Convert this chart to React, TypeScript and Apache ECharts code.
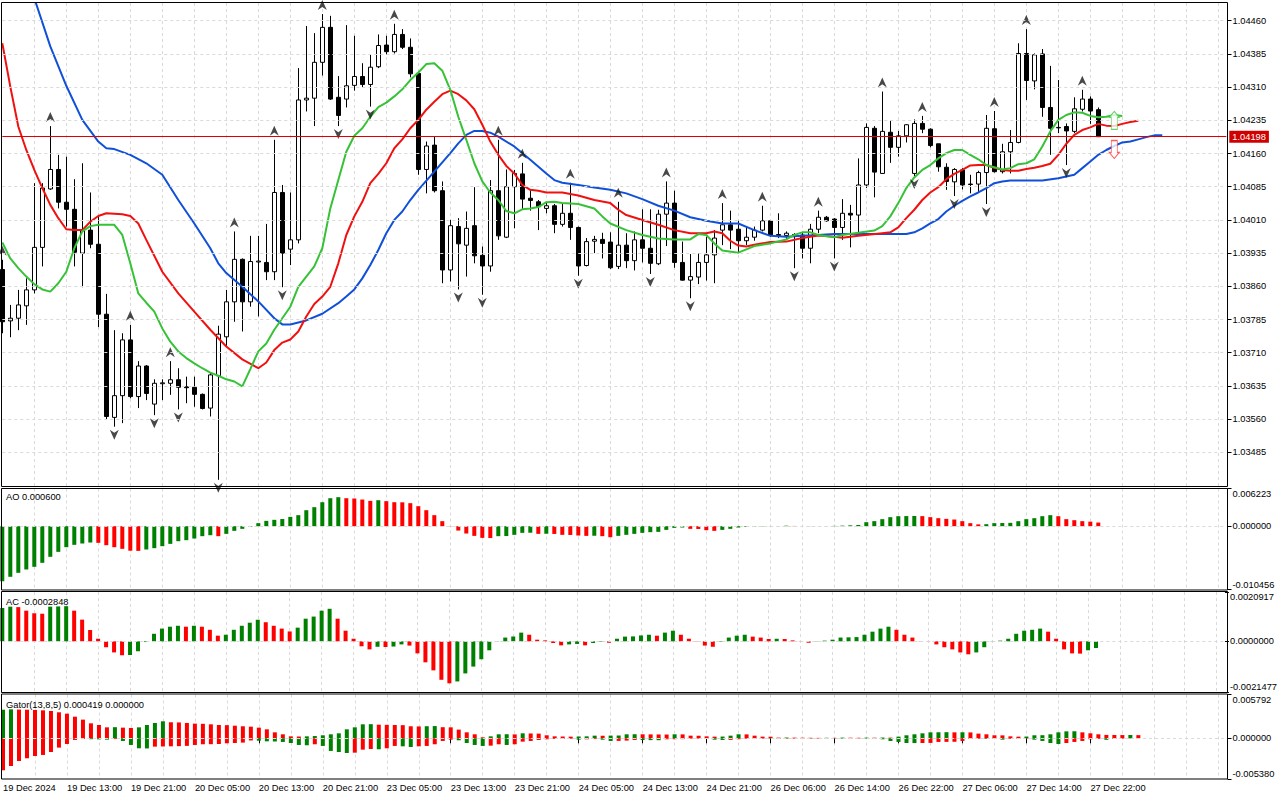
import React, { useEffect, useRef } from "react";
import * as echarts from "echarts";

// ---------- time axis ----------
const SESSIONS: [string, number, number][] = [
  ["19 Dec", 5, 23],
  ["20 Dec", 0, 23],
  ["23 Dec", 0, 23],
  ["24 Dec", 0, 22],
  ["26 Dec", 0, 23],
  ["27 Dec", 0, 23],
];
const FIRST_LABEL = "19 Dec 2024";
const FUTURE_SLOTS = 16;

// ---------- EURUSD H1 candles ----------
const OPEN = [
  1.03898, 1.03782, 1.03788, 1.03816, 1.03852, 1.03948, 1.0408, 1.04124, 1.0405, 1.04034,
  1.03935, 1.03987, 1.03955, 1.03797, 1.03564, 1.03613, 1.03739, 1.03611, 1.0368, 1.03594,
  1.0364, 1.03641, 1.03649, 1.03633, 1.03632, 1.03616, 1.03585, 1.03658, 1.03746, 1.03825,
  1.03921, 1.03825, 1.03915, 1.03914, 1.03893, 1.04072, 1.03944, 1.03965, 1.04281, 1.04285,
  1.04366, 1.04445, 1.04287, 1.04283, 1.04314, 1.04334, 1.04316, 1.04356, 1.04405, 1.0439,
  1.04429, 1.044, 1.04341, 1.04124, 1.04179, 1.04076, 1.03897, 1.03995, 1.03953, 1.03997,
  1.0393, 1.03906, 1.04076, 1.03971, 1.04085, 1.04114, 1.04059, 1.04051, 1.04036, 1.04042,
  1.04, 1.04025, 1.03993, 1.03907, 1.03962, 1.03966, 1.0396, 1.03905, 1.03953, 1.03918,
  1.03965, 1.03946, 1.03911, 1.04023, 1.04048, 1.03914, 1.03874, 1.03881, 1.03914, 1.03931,
  1.03987, 1.03999, 1.03989, 1.03963, 1.03971, 1.03987, 1.04008, 1.03977, 1.03975, 1.03977,
  1.03976, 1.03946, 1.03989, 1.04016, 1.04012, 1.03993, 1.04025, 1.04021, 1.04089, 1.04217,
  1.04115, 1.04208, 1.04174, 1.042, 1.04115, 1.04228, 1.04215, 1.04182, 1.04129, 1.04096,
  1.04123, 1.04091, 1.04091, 1.04117, 1.04216, 1.04119, 1.04164, 1.04185, 1.04386, 1.04324,
  1.04385, 1.04264, 1.04219, 1.04221, 1.0421, 1.0426, 1.04283, 1.04259,
];
const HIGH = [
  1.0392, 1.03818, 1.03852, 1.03878, 1.04093, 1.04093, 1.04222, 1.04157, 1.04153, 1.04102,
  1.04138, 1.04072, 1.04018, 1.03843, 1.03761, 1.03754, 1.03773, 1.03691, 1.03682, 1.0365,
  1.0365, 1.03691, 1.03675, 1.03656, 1.03656, 1.03618, 1.03664, 1.03771, 1.03852, 1.03984,
  1.03923, 1.03974, 1.03974, 1.04001, 1.04191, 1.04089, 1.04072, 1.04353, 1.04448, 1.04432,
  1.04475, 1.04471, 1.04335, 1.0445, 1.04426, 1.04364, 1.04383, 1.04429, 1.04426, 1.04453,
  1.04441, 1.0442, 1.04345, 1.04187, 1.04198, 1.04097, 1.0401, 1.04014, 1.04029, 1.04084,
  1.0395, 1.041, 1.04191, 1.04124, 1.04123, 1.04139, 1.04078, 1.04055, 1.04051, 1.04046,
  1.04046, 1.04094, 1.03995, 1.03969, 1.03974, 1.03981, 1.03982, 1.04051, 1.0398, 1.03984,
  1.04034, 1.04034, 1.04033, 1.04097, 1.04076, 1.03961, 1.03933, 1.03935, 1.03972, 1.03987,
  1.04048, 1.04031, 1.04008, 1.03995, 1.03995, 1.04042, 1.04008, 1.04025, 1.03984, 1.0398,
  1.03981, 1.04001, 1.04031, 1.04019, 1.04014, 1.04057, 1.04044, 1.04149, 1.04228, 1.04222,
  1.043, 1.04234, 1.04211, 1.04226, 1.04237, 1.04245, 1.04217, 1.04182, 1.04138, 1.04127,
  1.04127, 1.04112, 1.04121, 1.04247, 1.04256, 1.04182, 1.04213, 1.04409, 1.04441, 1.04386,
  1.04396, 1.04358, 1.04326, 1.04228, 1.04287, 1.04304, 1.04289, 1.04264,
];
const LOW = [
  1.03754, 1.03745, 1.03761, 1.03773, 1.03844, 1.03905, 1.04078, 1.04036, 1.03995, 1.03905,
  1.03858, 1.03946, 1.03768, 1.0356, 1.03543, 1.03551, 1.03607, 1.03585, 1.03603, 1.03569,
  1.03603, 1.03615, 1.03582, 1.03596, 1.03588, 1.03582, 1.03566, 1.03423, 1.03724, 1.0378,
  1.03758, 1.03814, 1.03792, 1.03874, 1.03874, 1.03858, 1.03908, 1.03957, 1.04255, 1.04222,
  1.04336, 1.04281, 1.04222, 1.04264, 1.04302, 1.0431, 1.04266, 1.04353, 1.04383, 1.04386,
  1.04396, 1.04332, 1.04112, 1.0407, 1.04072, 1.03867, 1.03871, 1.03853, 1.03882, 1.03912,
  1.03841, 1.03893, 1.03965, 1.03969, 1.03991, 1.04034, 1.04031, 1.03987, 1.04025, 1.0398,
  1.03995, 1.03965, 1.03884, 1.03905, 1.03935, 1.03923, 1.03899, 1.03899, 1.03901, 1.03896,
  1.03914, 1.03888, 1.03908, 1.03951, 1.03902, 1.03873, 1.03833, 1.03865, 1.03873, 1.03867,
  1.03953, 1.03944, 1.03935, 1.03953, 1.03963, 1.03984, 1.03972, 1.03969, 1.03965, 1.03901,
  1.03923, 1.03912, 1.0398, 1.04006, 1.03923, 1.03965, 1.03948, 1.0398, 1.04082, 1.04061,
  1.04114, 1.04139, 1.04153, 1.04185, 1.04109, 1.04206, 1.04174, 1.04119, 1.04078, 1.04064,
  1.04079, 1.0407, 1.04072, 1.04046, 1.04117, 1.04115, 1.04115, 1.04183, 1.04281, 1.04305,
  1.04243, 1.04157, 1.04206, 1.04134, 1.04206, 1.04255, 1.04227, 1.04198,
];
const CLOSE = [
  1.0378, 1.03788, 1.03818, 1.03852, 1.03948, 1.04082, 1.04124, 1.0405, 1.04034, 1.03937,
  1.03987, 1.03955, 1.03797, 1.03566, 1.03613, 1.03739, 1.03611, 1.0368, 1.03618, 1.03641,
  1.03642, 1.03649, 1.03632, 1.03631, 1.03616, 1.03584, 1.0366, 1.03752, 1.03825, 1.03921,
  1.03825, 1.03916, 1.03917, 1.03893, 1.04072, 1.03935, 1.03965, 1.04281, 1.04285, 1.04366,
  1.04445, 1.04283, 1.04246, 1.04313, 1.04334, 1.04316, 1.04355, 1.04404, 1.0439, 1.04429,
  1.044, 1.0434, 1.04124, 1.04177, 1.04076, 1.03897, 1.03997, 1.03956, 1.03991, 1.03929,
  1.03906, 1.04076, 1.03974, 1.04085, 1.04115, 1.04057, 1.04054, 1.0404, 1.04042, 1.04,
  1.04025, 1.03993, 1.03906, 1.03961, 1.03966, 1.03957, 1.03902, 1.03953, 1.03918, 1.03965,
  1.03946, 1.03912, 1.04023, 1.04048, 1.03914, 1.03874, 1.03882, 1.03914, 1.03931, 1.03969,
  1.03999, 1.03987, 1.03963, 1.03971, 1.03987, 1.04008, 1.03976, 1.03975, 1.0398, 1.03975,
  1.03946, 1.03989, 1.04016, 1.04008, 1.03993, 1.04025, 1.04021, 1.04089, 1.04219, 1.04118,
  1.0421, 1.04174, 1.042, 1.04225, 1.04228, 1.04215, 1.04178, 1.0413, 1.04097, 1.04124,
  1.04089, 1.0409, 1.04117, 1.04217, 1.04119, 1.04164, 1.04185, 1.04386, 1.04325, 1.04383,
  1.04264, 1.04217, 1.04218, 1.04211, 1.04261, 1.04283, 1.04256, 1.04198,
];

// ---------- Alligator (bar index, price), already shifted forward ----------
const JAW: [number, number][] = [
  [0, 1.0468], [2, 1.04582], [4, 1.04511], [6, 1.04402], [8, 1.04313], [10, 1.04236], [12, 1.04187],
  [13, 1.04172], [14, 1.0417], [16, 1.04157], [18, 1.04138], [20, 1.04112], [22, 1.04055], [24, 1.04002],
  [26, 1.03946], [27, 1.03912], [28, 1.0389], [30, 1.03859], [32, 1.03826], [34, 1.03788], [35, 1.03774],
  [36, 1.03774], [38, 1.03783], [40, 1.03798], [42, 1.03822], [43, 1.03837], [44, 1.03853], [45, 1.03878],
  [46, 1.03908], [47, 1.03942], [48, 1.0398], [49, 1.0401], [50, 1.04029], [51, 1.04055], [52, 1.04078],
  [54, 1.04119], [56, 1.04161], [57, 1.04183], [58, 1.04202], [59, 1.04211], [60, 1.04211], [61, 1.04207],
  [62, 1.04198], [64, 1.04176], [66, 1.04146], [68, 1.04115], [69, 1.041], [70, 1.04094], [72, 1.04089],
  [74, 1.04083], [76, 1.04078], [78, 1.0407], [80, 1.04057], [82, 1.04042], [84, 1.04031], [86, 1.04016],
  [88, 1.04008], [90, 1.04002], [92, 1.04002], [94, 1.03987], [96, 1.03974], [98, 1.03972], [100, 1.03974],
  [102, 1.03976], [104, 1.03978], [108, 1.03978], [113, 1.03978], [114, 1.03982], [115, 1.03991],
  [116, 1.04002], [117, 1.04012], [118, 1.04029], [119, 1.04042], [120, 1.04053], [121, 1.04063],
  [122, 1.04072], [123, 1.04082], [124, 1.04093], [125, 1.04097], [126, 1.04099], [130, 1.04099],
  [132, 1.04104], [134, 1.04112], [135, 1.04127], [136, 1.04142], [137, 1.04157], [138, 1.04168],
  [139, 1.04177], [140, 1.04185], [141, 1.04187], [142, 1.04192], [143, 1.04197], [144, 1.04201], [145, 1.04201],
];
const TEETH: [number, number][] = [
  [0, 1.04409], [1, 1.04311], [2, 1.04221], [3, 1.04168], [4, 1.04123], [5, 1.04082], [6, 1.04044],
  [7, 1.04014], [8, 1.03989], [9, 1.03987], [10, 1.03987], [11, 1.04006], [12, 1.04019], [13, 1.04025],
  [14, 1.04024], [15, 1.04023], [16, 1.04019], [17, 1.04002], [18, 1.03965], [20, 1.03893], [22, 1.03844],
  [24, 1.03803], [26, 1.03762], [28, 1.03724], [30, 1.03695], [32, 1.03675], [33, 1.03688], [34, 1.03716],
  [35, 1.03733], [36, 1.0374], [37, 1.03758], [38, 1.03792], [39, 1.0382], [40, 1.03837], [41, 1.03859],
  [42, 1.03912], [43, 1.03976], [44, 1.04018], [45, 1.04051], [46, 1.04093], [47, 1.04114], [48, 1.04138],
  [49, 1.04172], [50, 1.04192], [51, 1.04217], [52, 1.04236], [53, 1.04259], [54, 1.04277], [55, 1.04294],
  [56, 1.04302], [57, 1.04294], [58, 1.0428], [59, 1.0426], [60, 1.04225], [61, 1.04187], [62, 1.04157],
  [63, 1.04132], [64, 1.04115], [65, 1.04089], [66, 1.04078], [67, 1.04076], [68, 1.04072], [70, 1.04072],
  [72, 1.04065], [74, 1.04055], [76, 1.04048], [77, 1.04033], [78, 1.04021], [80, 1.0401], [82, 1.03999],
  [84, 1.03987], [86, 1.0398], [88, 1.0398], [89, 1.03984], [90, 1.0398], [91, 1.03963], [92, 1.03952],
  [93, 1.0395], [94, 1.03954], [96, 1.0396], [98, 1.03961], [100, 1.03969], [102, 1.03975], [104, 1.03972],
  [105, 1.0397], [107, 1.03974], [110, 1.0398], [111, 1.03982], [112, 1.03993], [113, 1.04014],
  [114, 1.04033], [115, 1.04055], [116, 1.04072], [117, 1.04084], [118, 1.04102], [119, 1.04114],
  [120, 1.04123], [121, 1.04133], [122, 1.04134], [123, 1.04134], [124, 1.04128], [125, 1.04123],
  [126, 1.04121], [127, 1.04121], [128, 1.04125], [129, 1.04128], [130, 1.04132], [131, 1.04137],
  [132, 1.04157], [133, 1.04182], [134, 1.04202], [135, 1.04213], [136, 1.04219], [137, 1.04227],
  [138, 1.04223], [139, 1.04222], [140, 1.04227], [141, 1.04231], [142, 1.04234],
];
const LIPS: [number, number][] = [
  [0, 1.03959], [1, 1.03923], [2, 1.03901], [3, 1.03882], [4, 1.03865], [5, 1.03853], [6, 1.03848],
  [7, 1.03867], [8, 1.03893], [9, 1.03946], [10, 1.03984], [11, 1.03996], [12, 1.03999], [14, 1.03999],
  [15, 1.03976], [16, 1.03912], [17, 1.03844], [18, 1.03823], [19, 1.03803], [20, 1.03765], [21, 1.03735],
  [22, 1.03713], [23, 1.03698], [24, 1.03686], [25, 1.03675], [26, 1.03665], [27, 1.03658], [28, 1.0365],
  [29, 1.03645], [30, 1.03634], [31, 1.03673], [32, 1.03713], [33, 1.03731], [34, 1.03762], [35, 1.03788],
  [36, 1.03814], [37, 1.03859], [38, 1.03882], [39, 1.03905], [40, 1.03946], [41, 1.04036], [42, 1.041],
  [43, 1.04164], [44, 1.042], [45, 1.04217], [46, 1.04243], [47, 1.04265], [48, 1.04275], [49, 1.04289],
  [50, 1.04305], [51, 1.04326], [52, 1.04343], [53, 1.04362], [54, 1.04364], [55, 1.04347], [56, 1.04304],
  [57, 1.04243], [58, 1.04191], [59, 1.04138], [60, 1.04097], [61, 1.04072], [62, 1.04055], [63, 1.0403],
  [64, 1.04025], [65, 1.04034], [66, 1.04036], [67, 1.04039], [68, 1.0405], [69, 1.04051], [70, 1.04048],
  [72, 1.04046], [74, 1.04036], [75, 1.04018], [76, 1.04002], [78, 1.03987], [80, 1.03976], [82, 1.03968],
  [84, 1.03966], [86, 1.03966], [87, 1.03978], [88, 1.03976], [89, 1.03957], [90, 1.03941], [92, 1.03936],
  [94, 1.03951], [96, 1.03957], [98, 1.03966], [99, 1.03976], [100, 1.03982], [101, 1.03982], [102, 1.03976],
  [104, 1.03971], [105, 1.03976], [107, 1.03981], [109, 1.03986], [110, 1.03996], [111, 1.04018],
  [112, 1.04048], [113, 1.04082], [114, 1.04106], [115, 1.04123], [116, 1.04134], [117, 1.04149],
  [118, 1.04161], [119, 1.04168], [120, 1.04168], [121, 1.04157], [122, 1.04147], [123, 1.04134],
  [124, 1.04129], [125, 1.04124], [126, 1.04127], [127, 1.04136], [128, 1.04138], [129, 1.04147],
  [130, 1.04176], [131, 1.0421], [132, 1.04236], [133, 1.04247], [134, 1.04253], [135, 1.04252],
  [136, 1.04245], [137, 1.04242], [138, 1.04243], [139, 1.04247], [140, 1.04245],
];

// ---------- fractals & signals ----------
const FRACTAL_UP = [0, 6, 16, 21, 29, 34, 40, 49, 62, 65, 71, 77, 83, 90, 95, 102, 110, 115, 124, 128, 135];
const FRACTAL_DOWN = [14, 19, 22, 27, 35, 42, 46, 57, 60, 72, 81, 86, 99, 104, 114, 119, 123, 133];
const SIGNAL_BUY: [number, number] = [139, 1.04235];
const SIGNAL_SELL: [number, number] = [139, 1.04169];

const LAST_PRICE = 1.04198;
const PRICE_MIN = 1.03409;
const PRICE_MAX = 1.045;
const PRICE_TICKS = [
  1.03485, 1.0356, 1.03635, 1.0371, 1.03785, 1.0386, 1.03935, 1.0401, 1.04085, 1.0416, 1.04235, 1.0431,
  1.04385, 1.0446,
];

// ---------- Awesome Oscillator ----------
const AO = [
  -0.00908, -0.00836, -0.0077, -0.00715, -0.00671, -0.00605, -0.00506, -0.00424, -0.00347, -0.00308,
  -0.00286, -0.0027, -0.00275, -0.00314, -0.00347, -0.00374, -0.00405, -0.00408, -0.00385, -0.00363,
  -0.0033, -0.00292, -0.00248, -0.00231, -0.00204, -0.00165, -0.00149, -0.00165, -0.00127, -0.00077,
  -0.00044, -0.00011, 0.0005, 0.00088, 0.00105, 0.00118, 0.00154, 0.00182, 0.00264, 0.00314,
  0.00396, 0.00462, 0.00479, 0.00462, 0.00457, 0.0044, 0.00418, 0.00429, 0.00413, 0.00396,
  0.00394, 0.0038, 0.0033, 0.00264, 0.00182, 0.00083, -0.00003, -0.00072, -0.00121, -0.0016,
  -0.00193, -0.00196, -0.00165, -0.00163, -0.00143, -0.0011, -0.00108, -0.00127, -0.00125, -0.00128,
  -0.00143, -0.00145, -0.00154, -0.0016, -0.00158, -0.00165, -0.00182, -0.0016, -0.00143, -0.00127,
  -0.0011, -0.00099, -0.00094, -0.00061, -0.00028, -0.00022, -0.00044, -0.00046, -0.00066, -0.00077,
  -0.00061, -0.00044, -0.00022, -0.00011, -0.00006, -0.00004, -0.00002, -0.00003, 0.00008, 0.00004,
  0.00001, -0.00002, 0.00001, 0.00003, 0.00005, 0.00009, 0.00014, 0.0002, 0.00066, 0.00083,
  0.00116, 0.00149, 0.00165, 0.00167, 0.00168, 0.00166, 0.00149, 0.00132, 0.00121, 0.0011,
  0.00083, 0.0005, 0.0003, 0.00033, 0.0005, 0.00052, 0.00055, 0.00083, 0.00116, 0.00132,
  0.00165, 0.00182, 0.00165, 0.00116, 0.00099, 0.00083, 0.00075, 0.0006,
];
const AO_MIN = -0.010456;
const AO_MAX = 0.006223;

// ---------- Accelerator Oscillator ----------
const AC = [
  0.00141, 0.00147, 0.00145, 0.0013, 0.00119, 0.00117, 0.00147, 0.00148, 0.00149, 0.0013,
  0.00092, 0.00048, 0.00011, -0.00025, -0.00047, -0.00059, -0.00058, -0.00042, -0.00003, 0.00032,
  0.00054, 0.00062, 0.00066, 0.00062, 0.00066, 0.00062, 0.00049, 0.00024, 0.00028, 0.00049,
  0.00066, 0.00079, 0.00092, 0.00081, 0.00066, 0.00054, 0.00042, 0.00058, 0.00096, 0.00105,
  0.0013, 0.00138, 0.00096, 0.00045, 0.00011, -0.00021, -0.00034, -0.00023, -0.00024, -0.00022,
  -0.00013, -0.00018, -0.00051, -0.00089, -0.00123, -0.00163, -0.00178, -0.0017, -0.00136, -0.00107,
  -0.00076, -0.00038, 0.00001, 0.00016, 0.0002, 0.00037, 0.00028, 0.00007, 0.00004, -0.00007,
  -0.00017, -0.00013, -0.00011, -0.00017, -0.00007, -0.00002, -0.00006, 0.00011, 0.0002, 0.00021,
  0.00025, 0.00028, 0.00024, 0.00037, 0.00045, 0.00028, 0.00011, -0.00001, -0.00018, -0.00023,
  -0.00002, 0.00016, 0.00024, 0.00028, 0.0002, 0.00016, 0.0001, 0.00011, 0.0001, 0.00004,
  0.00001, -0.00006, -0.00001, 0.00003, 0.00007, 0.00016, 0.00017, 0.00018, 0.00028, 0.00041,
  0.00054, 0.00062, 0.00049, 0.00028, 0.00016, 0.00001, -0.00001, -0.00013, -0.00025, -0.00034,
  -0.00047, -0.00055, -0.00047, -0.00025, 0.00001, 0.00003, 0.00011, 0.00032, 0.00045, 0.00049,
  0.00054, 0.00041, 0.00011, -0.00034, -0.00051, -0.00052, -0.00038, -0.0002848,
];
const AC_MIN = -0.0021477;
const AC_MAX = 0.0020917;

// ---------- Gator Oscillator (13,8,5) ----------
const GATOR_UP = [
  0.00378, 0.00383, 0.0038, 0.00378, 0.00375, 0.0037, 0.00361, 0.00344, 0.00326, 0.00286,
  0.00247, 0.00198, 0.00176, 0.00145, 0.00147, 0.00141, 0.00137, 0.00145, 0.00176, 0.00203,
  0.00225, 0.00212, 0.0021, 0.00203, 0.00194, 0.00192, 0.00185, 0.00176, 0.00174, 0.00167,
  0.00159, 0.00154, 0.00141, 0.00119, 0.00079, 0.00053, 0.00026, 0.00024, 0.00026, 0.0003,
  0.0004, 0.00053, 0.00066, 0.00119, 0.00145, 0.00185, 0.00187, 0.0018, 0.00178, 0.00176,
  0.00174, 0.00159, 0.00157, 0.0016, 0.00162, 0.00147, 0.00145, 0.00115, 0.00079, 0.00053,
  0.00013, 0.00026, 0.00053, 0.00054, 0.00052, 0.00066, 0.00064, 0.00062, 0.0004, 0.00026,
  0.00024, 0.00022, 0.00024, 0.00026, 0.00035, 0.00034, 0.00036, 0.00037, 0.00053, 0.00054,
  0.00053, 0.00052, 0.00051, 0.0005, 0.00053, 0.00052, 0.00035, 0.00034, 0.00026, 0.00022,
  0.00023, 0.00035, 0.00053, 0.00052, 0.00035, 0.00022, 0.00021, 0.00009, 0.0001, 0.00009,
  0.00008, 0.00007, 0.00006, 0.00007, 0.00006, 0.00009, 0.00008, 0.00007, 0.00009, 0.00008,
  0.0001, 0.00009, 0.00022, 0.0004, 0.00053, 0.00066, 0.00079, 0.0008, 0.00081, 0.00079,
  0.0008, 0.00078, 0.00062, 0.00053, 0.0004, 0.00039, 0.00026, 0.00022, 0.00023, 0.0004,
  0.00041, 0.00053, 0.00079, 0.00092, 0.00093, 0.00079, 0.00066, 0.00053, 0.00045, 0.00044,
  0.00043, 0.00044, 0.000419,
];
const GATOR_DOWN = [
  -0.00423, -0.00366, -0.003, -0.00264, -0.00234, -0.0022, -0.00181, -0.00123, -0.00075, -0.00022,
  -0.0001, -0.00012, -0.00014, -0.00018, -0.0001, -0.00035, -0.00088, -0.00132, -0.00134, -0.0011,
  -0.00108, -0.00106, -0.00104, -0.001, -0.00088, -0.00079, -0.00078, -0.00075, -0.00066, -0.00062,
  -0.00057, -0.00028, -0.00032, -0.0004, -0.00042, -0.00048, -0.00062, -0.00088, -0.00092, -0.00079,
  -0.00101, -0.00167, -0.00181, -0.00194, -0.0019, -0.0015, -0.00141, -0.00145, -0.00132, -0.00101,
  -0.00106, -0.00115, -0.00106, -0.00101, -0.00079, -0.00035, -0.00018, -0.00026, -0.00062, -0.00088,
  -0.00101, -0.00097, -0.00079, -0.00088, -0.00079, -0.00044, -0.00035, -0.00022, -0.00013, -0.00009,
  -0.00008, -0.00007, -0.00018, -0.00013, -0.0001, -0.00018, -0.00035, -0.00034, -0.0003, -0.00022,
  -0.00023, -0.00024, -0.00025, -0.00013, -0.00012, -0.00011, -0.00005, -0.00004, -0.00003, -0.00018,
  -0.00022, -0.00021, -0.00012, -0.00006, -0.00005, -0.00004, -0.00005, -0.00006, -0.00005, -0.00004,
  -0.00003, -0.00004, -0.00003, -0.00002, -0.00003, -0.00004, -0.00003, -0.00002, -0.00003, -0.00004,
  -0.00013, -0.00035, -0.00048, -0.00062, -0.00063, -0.00062, -0.00061, -0.00048, -0.00047, -0.00046,
  -0.00035, -0.00009, -0.00007, -0.00008, -0.00006, -0.00018, -0.00008, -0.00006, -0.00005, -0.00018,
  -0.00035, -0.00062, -0.00075, -0.00062, -0.00048, -0.00035, -0.00013, -0.00009, -0.0002, -0.00009,
  -0.00004, -0.00002, 0,
];
const GATOR_MIN = -0.00538;
const GATOR_MAX = 0.005792;

// ---------- styling ----------
const FONT = '"Liberation Sans", Arial, sans-serif';
const FS = 9.3;
const GREEN = "#008000";
const RED = "#ff0000";
const GRID_COLOR = "#dadada";
const PLOT_LEFT = 2.3;
const BAR_STEP = 8;

function buildCategories(): string[] {
  const out: string[] = [];
  SESSIONS.forEach(([day, from, to]) => {
    for (let h = from; h <= to; h++) out.push(`${day} ${String(h).padStart(2, "0")}:00`);
  });
  for (let k = 1; k <= FUTURE_SLOTS; k++) out.push(`+${k}`);
  return out;
}

function trendColors(vals: number[], useAbs: boolean, first: string) {
  const cols: string[] = [];
  vals.forEach((v, i) => {
    if (i === 0) {
      cols.push(first);
      return;
    }
    const a = useAbs ? Math.abs(v) : v;
    const b = useAbs ? Math.abs(vals[i - 1]) : vals[i - 1];
    cols.push(a > b ? GREEN : a < b ? RED : cols[i - 1]);
  });
  return vals.map((v, i) => ({ value: v, itemStyle: { color: cols[i] } }));
}

export default function App() {
  const ref = useRef<HTMLDivElement>(null);

  useEffect(() => {
    if (!ref.current) return;
    const chart = echarts.init(ref.current, undefined, { renderer: "svg" });
    const cats = buildCategories();
    const barCount = OPEN.length;
    const plotWidth = BAR_STEP * (cats.length - 1);

    const grids = [
      { left: PLOT_LEFT, width: plotWidth, top: 3, height: 483 },
      { left: PLOT_LEFT, width: plotWidth, top: 488.5, height: 101 },
      { left: PLOT_LEFT, width: plotWidth, top: 592, height: 100 },
      { left: PLOT_LEFT, width: plotWidth, top: 694.5, height: 84.5 },
    ];

    const labelInterval = (i: number) => i % 8 === 0 && i < barCount;
    const xAxes = grids.map((_, gi) => ({
      type: "category",
      gridIndex: gi,
      data: cats,
      boundaryGap: false,
      axisLine: { show: false },
      axisTick:
        gi === 3
          ? { show: true, interval: labelInterval, length: 5, lineStyle: { color: "#000" } }
          : { show: false },
      axisLabel:
        gi === 3
          ? {
              show: true,
              interval: labelInterval,
              align: "left",
              margin: 4,
              color: "#000",
              fontSize: FS,
              fontFamily: FONT,
              formatter: (v: string, i: number) => (i === 0 ? FIRST_LABEL : v),
            }
          : { show: false },
      splitLine: {
        show: true,
        interval: (i: number) => i % 4 === 0 && i > 0,
        lineStyle: { color: GRID_COLOR, type: [3, 3], width: 1 },
      },
    }));

    const panelAxis = (gi: number, min: number, max: number, digits: number) => ({
      type: "value",
      gridIndex: gi,
      position: "right",
      offset: 1.2,
      min,
      max,
      axisLine: { show: false },
      splitLine: { show: false },
      axisTick: { show: true, customValues: [min, 0, max], length: 4, lineStyle: { color: "#000" } },
      axisLabel: {
        customValues: [min, 0, max],
        margin: 5,
        color: "#000",
        fontSize: FS,
        fontFamily: FONT,
        formatter: (v: number) => {
          const s = v.toFixed(digits);
          if (Math.abs(v - max) < 1e-12) return `{t|${s}}`;
          if (Math.abs(v - min) < 1e-12) return `{b|${s}}`;
          return s;
        },
        rich: {
          t: { padding: [10, 0, 0, 0], fontSize: FS, fontFamily: FONT, color: "#000" },
          b: { padding: [0, 0, 10, 0], fontSize: FS, fontFamily: FONT, color: "#000" },
        },
      },
    });

    const yAxes = [
      {
        type: "value",
        gridIndex: 0,
        position: "right",
        offset: 1.2,
        min: PRICE_MIN,
        max: PRICE_MAX,
        axisLine: { show: false },
        splitLine: { show: false },
        axisTick: { show: true, customValues: PRICE_TICKS, length: 4, lineStyle: { color: "#000" } },
        axisLabel: {
          customValues: PRICE_TICKS,
          margin: 5,
          color: "#000",
          fontSize: FS,
          fontFamily: FONT,
          formatter: (v: number) => v.toFixed(5),
        },
      },
      panelAxis(1, AO_MIN, AO_MAX, 6),
      panelAxis(2, AC_MIN, AC_MAX, 7),
      panelAxis(3, GATOR_MIN, GATOR_MAX, 6),
    ];

    const zeroLine = {
      symbol: "none",
      silent: true,
      precision: 8,
      label: { show: false },
      lineStyle: { color: GRID_COLOR, type: [3, 3], width: 1 },
      data: [{ yAxis: 0 }],
    };

    const candleData = OPEN.map((o, i) => [o, CLOSE[i], LOW[i], HIGH[i]]);

    const frames = [
      [2.5, 484],
      [488.5, 101.5],
      [591.5, 101],
      [694, 85],
    ].map(([y, h]) => ({
      type: "rect",
      silent: true,
      z: 100,
      shape: { x: 1.5, y, width: 1226, height: h },
      style: { fill: "none", stroke: "#000", lineWidth: 1 },
    }));

    const titles = [
      [496.5, `AO ${AO[AO.length - 1].toFixed(6)}`],
      [601.5, `AC ${AC[AC.length - 1].toFixed(7)}`],
      [
        704.5,
        `Gator(13,8,5) ${GATOR_UP[GATOR_UP.length - 1].toFixed(6)} ${Math.abs(
          GATOR_DOWN[GATOR_DOWN.length - 1]
        ).toFixed(6)}`,
      ],
    ].map(([y, text]) => ({
      type: "text",
      silent: true,
      z: 101,
      x: 6,
      y: y as number,
      style: {
        text: text as string,
        fill: "#000",
        font: `${FS}px ${FONT}`,
        verticalAlign: "middle",
      },
    }));

    const option: any = {
      animation: false,
      backgroundColor: "#ffffff",
      grid: grids,
      xAxis: xAxes,
      yAxis: yAxes,
      graphic: [...frames, ...titles],
      series: [
        {
          name: "price-grid",
          type: "line",
          xAxisIndex: 0,
          yAxisIndex: 0,
          data: CLOSE,
          showSymbol: false,
          silent: true,
          z: 1,
          lineStyle: { opacity: 0 },
          markLine: {
            symbol: "none",
            silent: true,
            precision: 6,
            label: { show: false },
            lineStyle: { color: GRID_COLOR, type: [3, 3], width: 1 },
            data: PRICE_TICKS.map((v) => ({ yAxis: v })),
          },
        },
        {
          name: "EURUSD,H1",
          type: "candlestick",
          xAxisIndex: 0,
          yAxisIndex: 0,
          data: candleData,
          barWidth: 5,
          z: 2,
          itemStyle: {
            color: "#ffffff",
            color0: "#000000",
            borderColor: "#000000",
            borderColor0: "#000000",
            borderWidth: 1,
          },
        },
        {
          name: "last-price",
          type: "line",
          xAxisIndex: 0,
          yAxisIndex: 0,
          data: CLOSE,
          showSymbol: false,
          silent: true,
          z: 6,
          lineStyle: { opacity: 0 },
          markLine: {
            symbol: "none",
            silent: true,
            precision: 6,
            lineStyle: { color: "#e00000", type: "solid", width: 1 },
            label: {
              show: true,
              position: "end",
              distance: 3,
              formatter: LAST_PRICE.toFixed(5),
              color: "#ffffff",
              backgroundColor: "#d00000",
              padding: [2, 3, 1, 3],
              fontSize: FS,
              fontFamily: FONT,
            },
            data: [{ yAxis: LAST_PRICE }],
          },
        },
        {
          name: "Jaw",
          type: "line",
          xAxisIndex: 0,
          yAxisIndex: 0,
          data: JAW,
          showSymbol: false,
          z: 3,
          lineStyle: { color: "#1050d8", width: 2 },
        },
        {
          name: "Teeth",
          type: "line",
          xAxisIndex: 0,
          yAxisIndex: 0,
          data: TEETH,
          showSymbol: false,
          z: 3,
          lineStyle: { color: "#f01010", width: 2 },
        },
        {
          name: "Lips",
          type: "line",
          xAxisIndex: 0,
          yAxisIndex: 0,
          data: LIPS,
          showSymbol: false,
          z: 3,
          lineStyle: { color: "#36c236", width: 2 },
        },
        {
          name: "Fractal up",
          type: "scatter",
          xAxisIndex: 0,
          yAxisIndex: 0,
          data: FRACTAL_UP.map((i) => [i, HIGH[i]]),
          symbol: "path://M5,0 L10,11 L5,7.5 L0,11 Z",
          symbolSize: [9, 10],
          symbolOffset: [0, -9],
          z: 4,
          itemStyle: { color: "#1a1a1a" },
        },
        {
          name: "Fractal down",
          type: "scatter",
          xAxisIndex: 0,
          yAxisIndex: 0,
          data: FRACTAL_DOWN.map((i) => [i, LOW[i]]),
          symbol: "path://M0,0 L5,3.5 L10,0 L5,11 Z",
          symbolSize: [9, 10],
          symbolOffset: [0, 8],
          z: 4,
          itemStyle: { color: "#1a1a1a" },
        },
        {
          name: "Signals",
          type: "scatter",
          xAxisIndex: 0,
          yAxisIndex: 0,
          z: 5,
          data: [
            {
              value: SIGNAL_BUY,
              symbol: "path://M5,0 L10,6 L8,6 L8,18 L2,18 L2,6 L0,6 Z",
              symbolSize: [10, 18],
              itemStyle: { color: "#ffffff", borderColor: "#44cc44", borderWidth: 1 },
            },
            {
              value: SIGNAL_SELL,
              symbol: "path://M2,0 L8,0 L8,12 L10,12 L5,18 L0,12 L2,12 Z",
              symbolSize: [10, 18],
              itemStyle: { color: "#ffffff", borderColor: "#ff3333", borderWidth: 1 },
            },
          ],
        },
        {
          name: "AO",
          type: "bar",
          xAxisIndex: 1,
          yAxisIndex: 1,
          barWidth: 4,
          data: trendColors(AO, false, GREEN),
          markLine: zeroLine,
        },
        {
          name: "AC",
          type: "bar",
          xAxisIndex: 2,
          yAxisIndex: 2,
          barWidth: 4,
          data: trendColors(AC, false, GREEN),
          markLine: zeroLine,
        },
        {
          name: "Gator up",
          type: "bar",
          xAxisIndex: 3,
          yAxisIndex: 3,
          barWidth: 4,
          barGap: "-100%",
          data: trendColors(GATOR_UP, true, GREEN),
          markLine: zeroLine,
        },
        {
          name: "Gator down",
          type: "bar",
          xAxisIndex: 3,
          yAxisIndex: 3,
          barWidth: 4,
          barGap: "-100%",
          data: trendColors(GATOR_DOWN, true, RED),
        },
      ],
    };

    chart.setOption(option);
    return () => chart.dispose();
  }, []);

  return (
    <div
      ref={ref}
      style={{ position: "fixed", left: 0, top: 0, width: 1280, height: 800, background: "#fff" }}
    />
  );
}
